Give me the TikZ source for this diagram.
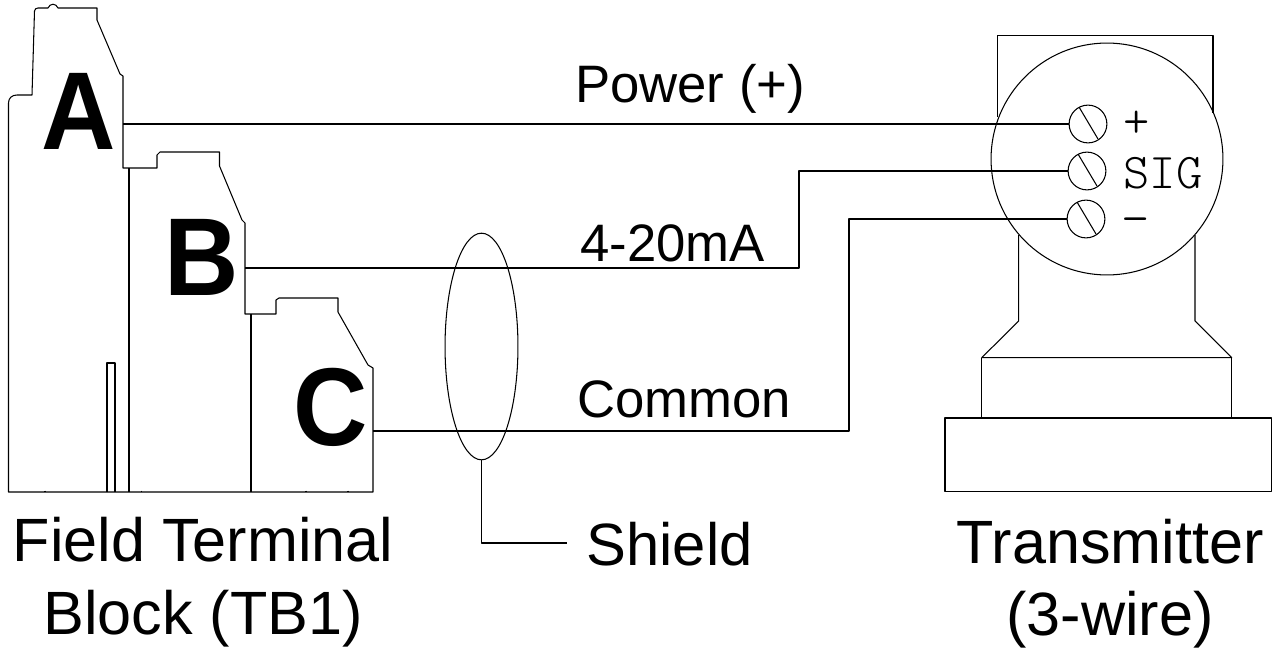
\documentclass[tikz,border=0pt]{standalone}
\usepackage{fontspec}
\setmainfont{Liberation Sans}
\usetikzlibrary{shapes.geometric}
\tikzset{myline/.style={line width=0.6pt,line join=round},
mylabel/.style={anchor=base,font=\fontsize{30}{30}\selectfont,inner sep=0pt},
mybiglabel/.style={anchor=base,font=\fontsize{34.8}{34.8}\selectfont,inner sep=0pt},
myletter/.style={anchor=base,font=\fontsize{63}{63}\selectfont\bfseries,inner sep=0pt,xscale=0.93,transform shape},
myscrew/.style={draw,circle,minimum size=21.5pt,inner sep=0pt,line width=0.6pt},
mymark/.style={anchor=base,inner sep=0pt,font=\fontfamily{lmtt}\fontseries{l}\fontsize{28.5}{28.5}\selectfont}}

\begin{document}
\begin{tikzpicture}[x=0.02cm,y=-0.02cm,myline]
\useasboundingbox (0,0) rectangle (1272,649);
% terminal block outline
\draw (8.5,492) -- (8.5,103) .. controls (8.5,98) and (12,95) .. (17,95) -- (32,95)
 -- (34.5,11) .. controls (35,9) and (36,8) .. (38,8) -- (48,8)
 .. controls (50,3) and (56,3) .. (58,8) -- (97,8) -- (97,20) -- (120,74) -- (123,76)
 -- (123,168) -- (157,168) -- (157,155) -- (160,152) -- (219.5,152) -- (219.5,166)
 -- (242,220) -- (245,223) -- (245,314) -- (276,314) -- (276,300) -- (279,298)
 -- (338,298) -- (338,312) -- (368,365) -- (373,368) -- (373,492) -- cycle;
\draw (129,168) -- (129,492);
\draw (251,314) -- (251,492);
\draw (107,492) -- (107,363) -- (115,363) -- (115,492);
\foreach \x in {45,141.7,306,348}
  \draw (\x,490.5) -- (\x,492);
% transmitter body
\draw (997.7,117) -- (997.7,35.5) -- (1213,35.5) -- (1213,113);
\draw (1018.7,235) -- (1018.7,321) -- (981.7,357.7) -- (1231.7,357.7) -- (1195,321) -- (1195,235);
\draw (981.7,357.7) -- (981.7,418);
\draw (1231.7,357.7) -- (1231.7,418);
\draw (945,418) rectangle (1271.5,491.7);
\node[draw,circle,minimum size=132pt,inner sep=0pt,line width=0.6pt] (head) at (1107,159) {};
% screws
\node[myscrew] (plus) at (1088,124) {};
\node[myscrew] (sig) at (1087,171) {};
\node[myscrew] (minus) at (1086,219) {};
\foreach \s in {plus,sig,minus}
  \draw ([shift={(-9,-17)}]\s.center) -- ([shift={(10,15)}]\s.center);
% marks beside screws
\node[mymark] (pluslabel) at (1137,137.5) {+};
\node[mymark] (siglabel) at (1163,188) {SIG};
\node[mymark] (minuslabel) at (1136,234.6) {\symbol{"2212}};
% wire ends on block
\coordinate (a) at (123,124);
\coordinate (b) at (245,268);
\coordinate (c) at (373,431);
\draw (a) -- (plus);
\draw (b) -- (799,268) |- (sig);
\draw (c) -- (849,431) |- (minus);
% shield
\node[draw,ellipse,minimum width=41.5pt,minimum height=129pt,inner sep=0pt,line width=0.6pt] (shieldring) at (481.5,346.5) {};
\node[mybiglabel,anchor=base west,font=\fontsize{34}{34}\selectfont] (shield) at (586,565) {Shield};
\coordinate (shieldend) at (567,543);
\draw (shieldring.south) |- (shieldend);
% block letters
\node[myletter] (lettera) at (79,149) {A};
\node[myletter] (letterb) at (202,295) {B};
\node[myletter] (letterc) at (331,445) {C};
% wire labels
\node[mylabel] (power) at (690,102) {Power (+)};
\node[mylabel] (signal) at (672.5,261) {4-20mA};
\node[mylabel] (common) at (684,417) {Common};
% captions
\node[mybiglabel] (field) at (203,561) {Field Terminal};
\node[mybiglabel] (block) at (203,634) {Block (TB1)};
\node[mybiglabel] (transmitter) at (1110,563) {Transmitter};
\node[mybiglabel] (wires) at (1110,635) {(3-wire)};
\end{tikzpicture}
\end{document}
